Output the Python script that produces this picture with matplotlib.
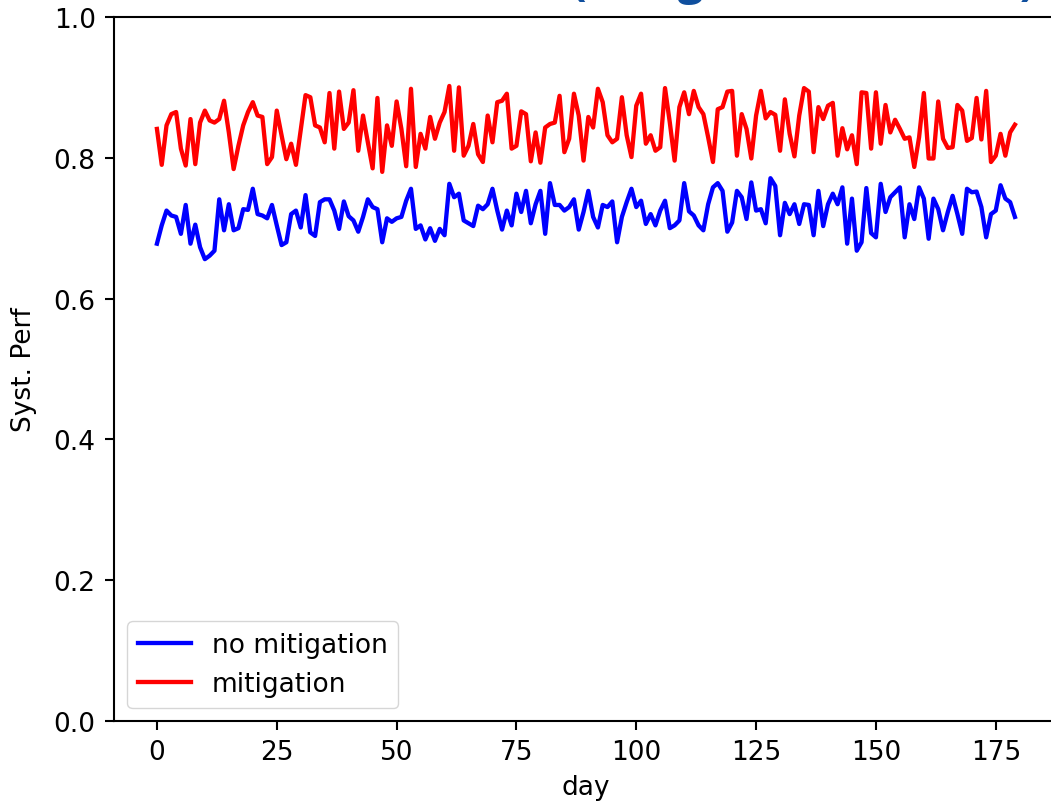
import matplotlib.pyplot as plt
import numpy as np

# daily system performance, 180 days
day = np.arange(180)

no_mitigation = [
    0.678, 0.704, 0.725, 0.718, 0.716, 0.692, 0.733, 0.678, 0.705, 0.673,
    0.656, 0.661, 0.668, 0.741, 0.697, 0.734, 0.697, 0.700, 0.727, 0.726,
    0.756, 0.720, 0.718, 0.714, 0.733, 0.704, 0.676, 0.680, 0.720, 0.725,
    0.701, 0.747, 0.694, 0.689, 0.737, 0.741, 0.741, 0.725, 0.699, 0.738,
    0.717, 0.711, 0.695, 0.716, 0.741, 0.730, 0.727, 0.680, 0.714, 0.709,
    0.714, 0.716, 0.739, 0.756, 0.699, 0.704, 0.684, 0.700, 0.682, 0.699,
    0.690, 0.763, 0.744, 0.749, 0.711, 0.707, 0.703, 0.732, 0.727, 0.734,
    0.756, 0.725, 0.698, 0.725, 0.704, 0.749, 0.723, 0.753, 0.707, 0.734,
    0.753, 0.692, 0.764, 0.733, 0.733, 0.725, 0.730, 0.741, 0.698, 0.723,
    0.753, 0.716, 0.701, 0.733, 0.730, 0.738, 0.680, 0.716, 0.737, 0.756,
    0.730, 0.739, 0.706, 0.720, 0.704, 0.725, 0.739, 0.700, 0.704, 0.711,
    0.764, 0.724, 0.718, 0.704, 0.697, 0.734, 0.758, 0.764, 0.753, 0.695,
    0.708, 0.753, 0.744, 0.713, 0.765, 0.725, 0.727, 0.707, 0.771, 0.760,
    0.690, 0.736, 0.720, 0.734, 0.706, 0.734, 0.733, 0.690, 0.753, 0.703,
    0.734, 0.749, 0.734, 0.758, 0.678, 0.742, 0.668, 0.680, 0.757, 0.693,
    0.687, 0.763, 0.723, 0.744, 0.751, 0.758, 0.687, 0.734, 0.713, 0.758,
    0.742, 0.685, 0.742, 0.727, 0.697, 0.723, 0.746, 0.720, 0.692, 0.756,
    0.751, 0.752, 0.730, 0.687, 0.720, 0.725, 0.761, 0.742, 0.737, 0.716,
]

mitigation = [
    0.841, 0.790, 0.846, 0.862, 0.865, 0.813, 0.789, 0.855, 0.791, 0.850,
    0.867, 0.853, 0.850, 0.855, 0.881, 0.836, 0.784, 0.817, 0.846, 0.865,
    0.879, 0.860, 0.858, 0.791, 0.801, 0.867, 0.832, 0.798, 0.820, 0.790,
    0.840, 0.889, 0.886, 0.846, 0.843, 0.822, 0.892, 0.813, 0.894, 0.841,
    0.850, 0.896, 0.810, 0.860, 0.822, 0.785, 0.885, 0.780, 0.846, 0.817,
    0.880, 0.841, 0.788, 0.898, 0.787, 0.834, 0.813, 0.858, 0.827, 0.850,
    0.865, 0.902, 0.810, 0.900, 0.803, 0.817, 0.848, 0.805, 0.794, 0.860,
    0.822, 0.879, 0.881, 0.891, 0.813, 0.817, 0.866, 0.862, 0.795, 0.836,
    0.793, 0.843, 0.848, 0.850, 0.888, 0.808, 0.827, 0.891, 0.860, 0.796,
    0.858, 0.843, 0.898, 0.879, 0.832, 0.822, 0.827, 0.886, 0.832, 0.801,
    0.874, 0.891, 0.820, 0.832, 0.810, 0.815, 0.899, 0.850, 0.796, 0.872,
    0.893, 0.862, 0.895, 0.872, 0.862, 0.829, 0.794, 0.869, 0.872, 0.894,
    0.895, 0.803, 0.862, 0.841, 0.799, 0.860, 0.895, 0.856, 0.865, 0.861,
    0.810, 0.883, 0.834, 0.802, 0.860, 0.899, 0.894, 0.808, 0.872, 0.855,
    0.874, 0.878, 0.803, 0.842, 0.812, 0.832, 0.791, 0.893, 0.892, 0.813,
    0.893, 0.820, 0.875, 0.836, 0.854, 0.841, 0.827, 0.829, 0.787, 0.829,
    0.892, 0.799, 0.799, 0.880, 0.827, 0.814, 0.815, 0.875, 0.867, 0.824,
    0.828, 0.885, 0.826, 0.895, 0.794, 0.803, 0.834, 0.803, 0.836, 0.847,
]

labels = ["no mitigation", "mitigation"]
heading = "(Mitigation enabled)"

fs = 19
plt.rcParams["font.size"] = fs
plt.rcParams["axes.linewidth"] = 1.5

fig = plt.figure(figsize=(10.51, 8.03), dpi=100)
ax = fig.add_axes([0.1085, 0.1009, 0.898, 0.8767])

ax.plot(day, no_mitigation, color="blue", lw=3.1, label=labels[0])
ax.plot(day, mitigation, color="red", lw=3.1, label=labels[1])

ax.set_ylim(0, 1)
ax.set_yticks([0.0, 0.2, 0.4, 0.6, 0.8, 1.0])
ax.set_xticks([0, 25, 50, 75, 100, 125, 150, 175])
ax.tick_params(length=6.7, width=1.5, pad=6.5)
ax.set_xlabel("day", labelpad=6)
ax.set_ylabel("Syst. Perf", labelpad=12)
ax.legend(loc="lower left", handlelength=2.0)

# heading sits above the plot area
fig.text(0.764, 1.0072, heading, ha="center", va="baseline",
         fontsize=33, fontweight="bold", color="#0f4f9e", family="Open Sans")

fig.savefig("out.png", dpi=100)
